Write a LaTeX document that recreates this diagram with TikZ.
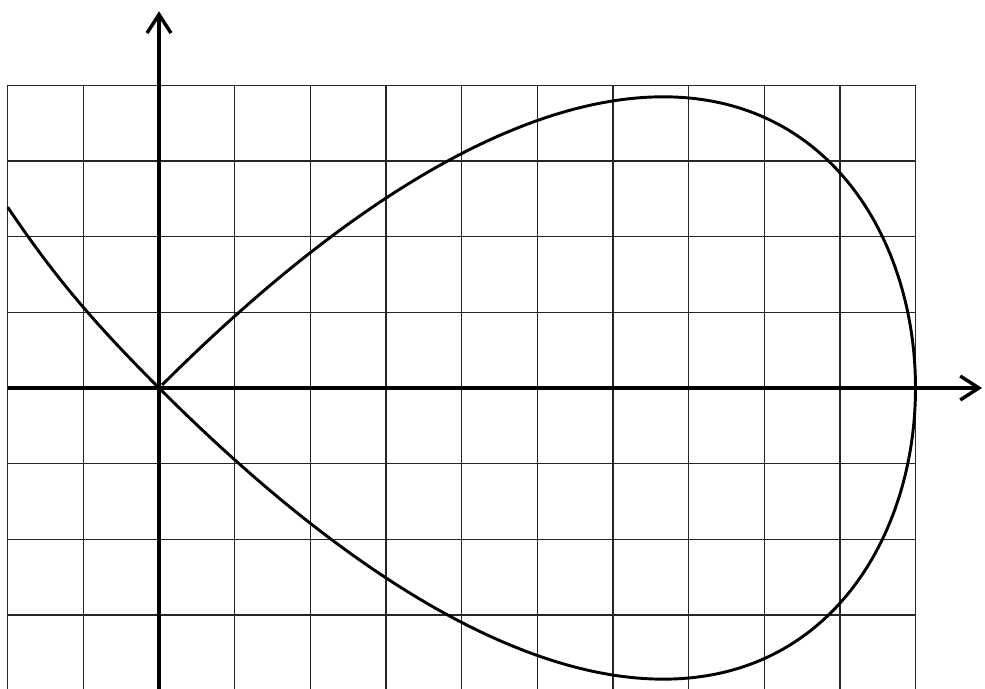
\documentclass[tikz,border=0pt]{standalone}
\usepackage{tikz}
\usetikzlibrary{arrows.meta}

\begin{document}
\begin{tikzpicture}[scale=1.0]
  \useasboundingbox (-2.102,-3.966) rectangle (10.919,5.129);
  % grid
  \draw[black!85,line width=0.5pt] (-2,-4) grid (10,4);
  % axes
  \coordinate (xleft) at (-2,0);
  \coordinate (xright) at (10.88,0);
  \coordinate (ybottom) at (0,-4);
  \coordinate (ytop) at (0,4.98);
  \draw[line width=1.3pt,-{Straight Barb[length=7pt,width=9pt]}] (xleft) -- (xright);
  \draw[line width=1.3pt,-{Straight Barb[length=7pt,width=9pt]}] (ybottom) -- (ytop);
  % loop of the cubic
  \draw[line width=1.1pt,domain=-1:1,samples=200,smooth,variable=\t]
    plot ({10*(1-\t*\t)},{10*\t*(1-\t*\t)});
  % left branch
  \coordinate (origin) at (0,0);
  \coordinate (branchend) at (-2,2.39);
  \draw[line width=1.1pt] (origin) .. controls (-0.9,0.9) and (-1.4,1.5) .. (branchend);
\end{tikzpicture}
\end{document}
